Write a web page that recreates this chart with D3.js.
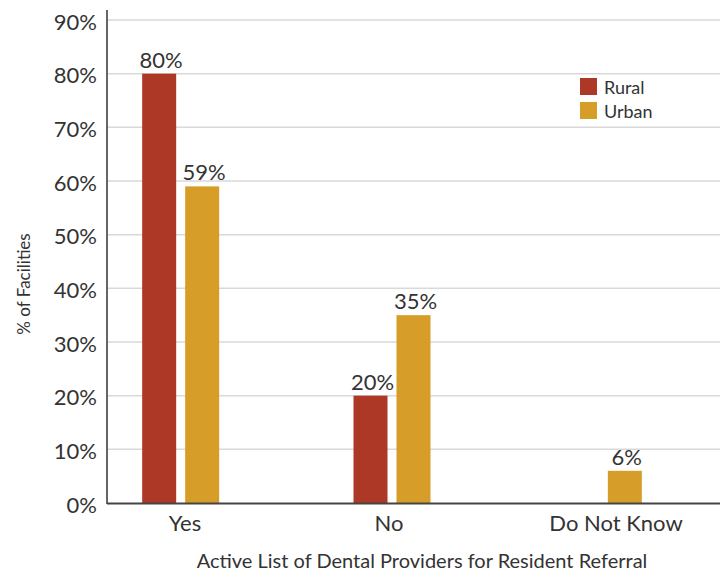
<!DOCTYPE html>
<html>
<head>
<meta charset="utf-8">
<script src="https://cdn.jsdelivr.net/npm/d3@7"></script>
<style>
  html, body { margin: 0; padding: 0; background: #fff; }
  svg { display: block; }
  text { font-family: Lato, "Open Sans", sans-serif; fill: #333; }
</style>
</head>
<body>
<div id="chart"></div>
<script>
// Survey answers and share of facilities per answer
const categories = ["Yes", "No", "Do Not Know"];
const seriesNames = ["Rural", "Urban"];
const ruralValues = [80, 20, 0];
const urbanValues = [59, 35, 6];
const yTicks = [0, 10, 20, 30, 40, 50, 60, 70, 80, 90];
const xTitle = "Active List of Dental Providers for Resident Referral";
const yTitle = "% of Facilities";
const colors = { Rural: "#AE3826", Urban: "#D69E28" };

const width = 720, height = 573;
const plot = { left: 107, right: 720, top: 10, bottom: 503 };

const svg = d3.select("#chart").append("svg")
  .attr("width", width).attr("height", height);

const y = d3.scaleLinear().domain([0, 90]).range([503, 20]);
const x = d3.scaleBand().domain(categories).range([75, 709]);
const xs = d3.scaleBand().domain(seriesNames).range([0, 77]).paddingInner(0.209);

const rows = categories.map((c, i) => ({
  category: c,
  values: [
    { series: "Rural", value: ruralValues[i] },
    { series: "Urban", value: urbanValues[i] }
  ]
}));

// Horizontal gridlines
svg.append("g")
  .selectAll("line")
  .data(yTicks.filter(t => t > 0))
  .join("line")
  .attr("x1", plot.left).attr("x2", plot.right)
  .attr("y1", d => y(d)).attr("y2", d => y(d))
  .attr("stroke", "#d9d9d9").attr("stroke-width", 1.5);

// Y axis labels
const yAxis = d3.axisLeft(y).tickValues(yTicks).tickFormat(d => d + "%").tickSize(0).tickPadding(10);
const gy = svg.append("g").attr("transform", `translate(${plot.left},0)`).call(yAxis);
gy.select(".domain").remove();
gy.selectAll("text")
  .attr("font-size", 22).attr("fill", "#333")
  .style("font-family", "Lato, 'Open Sans', sans-serif")
  .attr("dy", "0.42em");

// Bars
const groups = svg.append("g").selectAll("g")
  .data(rows).join("g")
  .attr("transform", d => `translate(${x(d.category) + x.bandwidth() / 2 - 38.5},0)`);

groups.selectAll("rect")
  .data(d => d.values.filter(v => v.value > 0))
  .join("rect")
  .attr("x", d => xs(d.series))
  .attr("width", xs.bandwidth())
  .attr("y", d => y(d.value))
  .attr("height", d => y(0) - y(d.value))
  .attr("fill", d => colors[d.series]);

// Value labels
groups.selectAll("text.value")
  .data(d => d.values.filter(v => v.value > 0))
  .join("text")
  .attr("class", "value")
  .attr("x", d => xs(d.series) + xs.bandwidth() / 2 + 2)
  .attr("y", d => y(d.value) - 6)
  .attr("text-anchor", "middle")
  .attr("font-size", 22)
  .text(d => d.value + "%");

// Axis lines
svg.append("line")
  .attr("x1", plot.left).attr("x2", plot.left)
  .attr("y1", plot.top).attr("y2", plot.bottom + 1)
  .attr("stroke", "#333").attr("stroke-width", 1.5);
svg.append("line")
  .attr("x1", plot.left).attr("x2", plot.right)
  .attr("y1", plot.bottom + 0.5).attr("y2", plot.bottom + 0.5)
  .attr("stroke", "#444").attr("stroke-width", 2);

// Category labels
const xAxis = d3.axisBottom(x).tickSize(0).tickPadding(12);
const gx = svg.append("g").attr("transform", `translate(0,${plot.bottom})`).call(xAxis);
gx.select(".domain").remove();
gx.selectAll(".tick").attr("transform", (d, i) => `translate(${[185, 389, 616][i]},0)`);
gx.selectAll("text")
  .attr("font-size", 22).attr("fill", "#333")
  .style("font-family", "Lato, 'Open Sans', sans-serif");

// Axis titles
svg.append("text")
  .attr("x", 422).attr("y", 568)
  .attr("text-anchor", "middle")
  .attr("font-size", 20)
  .text(xTitle);

svg.append("text")
  .attr("transform", "translate(30,284) rotate(-90)")
  .attr("text-anchor", "middle")
  .attr("font-size", 17)
  .text(yTitle);

// Legend
const legend = svg.append("g").attr("transform", "translate(580,78)");
const items = legend.selectAll("g").data(seriesNames).join("g")
  .attr("transform", (d, i) => `translate(0,${i * 24})`);
items.append("rect")
  .attr("width", 17).attr("height", 17)
  .attr("fill", d => colors[d]);
items.append("text")
  .attr("x", 24).attr("y", 16)
  .attr("font-size", 18)
  .text(d => d);
</script>
</body>
</html>
